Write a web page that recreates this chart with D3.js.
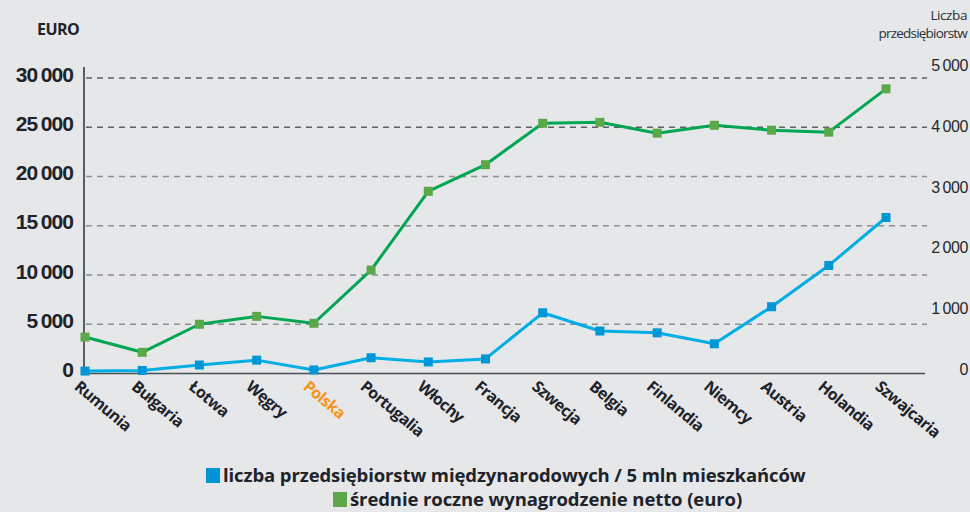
<!DOCTYPE html>
<html>
<head>
<meta charset="utf-8">
<script src="https://cdn.jsdelivr.net/npm/d3@7"></script>
<style>
	body { margin: 0; background: #e6e7e9; }
	svg { display: block; font-family: "Open Sans", sans-serif; }
</style>
</head>
<body>
<div id="chart"></div>
<script>
var countries = ["Rumunia", "Bułgaria", "Łotwa", "Węgry", "Polska", "Portugalia", "Włochy", "Francja",
	"Szwecja", "Belgia", "Finlandia", "Niemcy", "Austria", "Holandia", "Szwajcaria"];
// srednie roczne wynagrodzenie netto (euro) - lewa os
var wages = [3700, 2150, 5000, 5800, 5100, 10500, 18500, 21200, 25400, 25500, 24400, 25200, 24700, 24500, 28900];
// liczba przedsiebiorstw miedzynarodowych / 5 mln mieszkancow - prawa os
var firms = [40, 50, 140, 220, 58, 260, 190, 240, 1000, 700, 670, 490, 1100, 1780, 2570];
var leftTicks = [0, 5000, 10000, 15000, 20000, 25000, 30000];
var rightTicks = [0, 1000, 2000, 3000, 4000, 5000];
var legendLabels = ["liczba przedsiębiorstw międzynarodowych / 5 mln mieszkańców", "średnie roczne wynagrodzenie netto (euro)"];

var width = 970,
	height = 512;

var blueLine = "#00aee6",
	blueMark = "#0096d6",
	greenLine = "#00a651",
	greenMark = "#5aa84a";

var fmt = function(v) {
	return d3.format(",")(v).replace(/,/g, "\u2009");
};

var svg = d3.select("#chart").append("svg")
	.attr("width", width)
	.attr("height", height);

svg.append("rect")
	.attr("width", width)
	.attr("height", height)
	.attr("fill", "#e6e7e9");

var x = d3.scalePoint()
	.domain(countries)
	.range([85, 886]);

var yLeft = d3.scaleLinear()
	.domain([0, 30000])
	.range([373.5, 78]);

var yRight = d3.scaleLinear()
	.domain([0, 5000])
	.range([373.5, 70]);

// gridlines
svg.append("g").selectAll("line")
	.data(leftTicks.filter(function(d) { return d > 0; }))
	.enter().append("line")
	.attr("x1", 86)
	.attr("x2", 927)
	.attr("y1", function(d) { return yLeft(d); })
	.attr("y2", function(d) { return yLeft(d); })
	.attr("stroke", function(d) { return d >= 25000 ? "#5b6066" : "#8e8f91"; })
	.attr("stroke-width", 1.5)
	.attr("stroke-dasharray", "6,5");

// left axis
var leftAxis = svg.append("g")
	.attr("transform", "translate(84,0)")
	.call(d3.axisLeft(yLeft).tickValues(leftTicks).tickSize(0).tickPadding(11).tickFormat(fmt));
leftAxis.select(".domain").remove();
leftAxis.selectAll("text")
	.attr("dy", "0.15em")
	.style("font-size", "21px")
	.style("font-weight", 700)
	.style("letter-spacing", "-0.9px")
	.attr("fill", "#1d2329");

svg.append("line")
	.attr("x1", 84).attr("x2", 84)
	.attr("y1", 67).attr("y2", 374)
	.attr("stroke", "#2b3036")
	.attr("stroke-width", 1.5);

svg.append("line")
	.attr("x1", 84).attr("x2", 925)
	.attr("y1", 373.5).attr("y2", 373.5)
	.attr("stroke", "#4a4f55")
	.attr("stroke-width", 1.5);

// right axis labels
var rightAxis = svg.append("g")
	.attr("transform", "translate(968,0)")
	.call(d3.axisLeft(yRight).tickValues(rightTicks).tickSize(0).tickPadding(0).tickFormat(fmt));
rightAxis.select(".domain").remove();
rightAxis.selectAll("text")
	.attr("dy", "0.05em")
	.style("font-size", "16px")
	.style("letter-spacing", "-0.4px")
	.attr("fill", "#23282d");

svg.append("text")
	.attr("x", 37)
	.attr("y", 35)
	.style("font-size", "16px")
	.style("font-weight", 700)
	.style("letter-spacing", "-0.5px")
	.attr("fill", "#1d2329")
	.text("EURO");

svg.append("text")
	.attr("x", 967)
	.attr("y", 20)
	.attr("text-anchor", "end")
	.style("font-size", "13.5px")
	.style("letter-spacing", "-0.4px")
	.attr("fill", "#2b3036")
	.text("Liczba");

svg.append("text")
	.attr("x", 967)
	.attr("y", 38)
	.attr("text-anchor", "end")
	.style("font-size", "13.5px")
	.style("letter-spacing", "-0.8px")
	.attr("fill", "#2b3036")
	.text("przedsiębiorstw");

// x labels
svg.append("g").selectAll("text")
	.data(countries)
	.enter().append("text")
	.attr("transform", function(d) { return "translate(" + (x(d) - 4) + ",379) rotate(40)"; })
	.attr("dy", "0.75em")
	.style("font-size", "16px")
	.style("font-weight", 700)
	.style("letter-spacing", "-0.6px")
	.attr("fill", function(d) { return d === "Polska" ? "#f7941d" : "#1d2329"; })
	.text(function(d) { return d; });

// series
function drawSeries(values, y, lineColor, markColor) {
	var line = d3.line()
		.x(function(d, i) { return x(countries[i]); })
		.y(function(d) { return y(d); });

	svg.append("path")
		.datum(values)
		.attr("d", line)
		.attr("fill", "none")
		.attr("stroke", lineColor)
		.attr("stroke-width", 3)
		.attr("stroke-linejoin", "round");

	svg.append("g").selectAll("rect")
		.data(values)
		.enter().append("rect")
		.attr("x", function(d, i) { return x(countries[i]) - 4.5; })
		.attr("y", function(d) { return y(d) - 4.5; })
		.attr("width", 9)
		.attr("height", 9)
		.attr("fill", markColor);
}

drawSeries(firms, yRight, blueLine, blueMark);
drawSeries(wages, yLeft, greenLine, greenMark);

// legend
var legend = [
	{ label: legendLabels[0], color: blueMark, x: 206, y: 468 },
	{ label: legendLabels[1], color: greenMark, x: 333, y: 492 }
];

var lg = svg.append("g").selectAll("g")
	.data(legend)
	.enter().append("g")
	.attr("transform", function(d) { return "translate(" + d.x + "," + d.y + ")"; });

lg.append("rect")
	.attr("width", 14)
	.attr("height", 15)
	.attr("fill", function(d) { return d.color; });

lg.append("text")
	.attr("x", 17)
	.attr("y", 14)
	.style("font-size", "18.5px")
	.style("font-weight", 700)
	.style("letter-spacing", "-0.1px")
	.attr("fill", "#1d2329")
	.text(function(d) { return d.label; });
</script>
</body>
</html>
